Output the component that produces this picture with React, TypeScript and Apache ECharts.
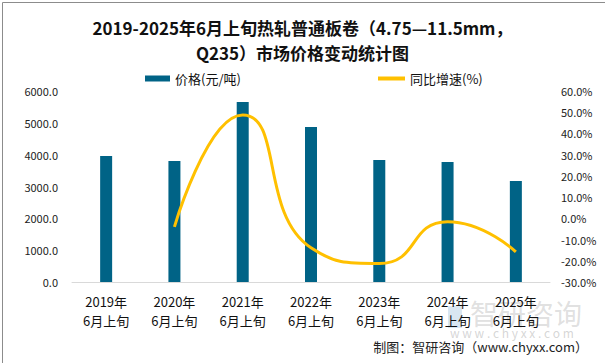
import React, { useEffect, useRef } from "react";
import * as echarts from "echarts";

const categories = ["2019年\n6月上旬", "2020年\n6月上旬", "2021年\n6月上旬", "2022年\n6月上旬", "2023年\n6月上旬", "2024年\n6月上旬", "2025年\n6月上旬"];
const prices = [3958, 3801, 5654, 4869, 3832, 3770, 3173];
const growth = [null, -4.0, 48.7, -13.9, -21.3, -1.6, -15.8];
const titleLines = ["2019-2025年6月上旬热轧普通板卷（4.75—11.5mm，", "Q235）市场价格变动统计图"];
const seriesNames = ["价格(元/吨)", "同比增速(%)"];
const footer = "制图：智研咨询（www.chyxx.com）";
const watermark = "智研咨询";
const watermarkUrl = "w w w . c h y x x . c o m";

const FONT = "'Noto Sans CJK SC', 'Noto Sans', sans-serif";

export default function App() {
  const ref = useRef<HTMLDivElement>(null);
  useEffect(() => {
    document.body.style.margin = "0";
    const chart = echarts.init(ref.current!, null, { renderer: "svg" });
    chart.setOption({
      animation: false,
      backgroundColor: "#ffffff",
      textStyle: { fontFamily: FONT },
      title: {
        text: titleLines.join("\n"),
        left: "center",
        top: 10,
        textStyle: { fontSize: 17, fontWeight: "bold", color: "#111", lineHeight: 25, fontFamily: FONT },
      },
      legend: [
        {
          top: 67,
          left: 140,
          itemWidth: 25,
          itemHeight: 6,
          itemGap: 4,
          textStyle: { fontSize: 13, color: "#111", fontFamily: FONT },
          data: [{ name: seriesNames[0], icon: "rect" }],
        },
        {
          top: 67,
          left: 373,
          itemWidth: 27,
          itemHeight: 4,
          textStyle: { fontSize: 13, color: "#111", fontFamily: FONT },
          data: [{ name: seriesNames[1], icon: "rect", itemStyle: { color: "#FFC000" } }],
        },
      ],
      grid: { left: 72, right: 55, top: 91, bottom: 81 },
      xAxis: {
        type: "category",
        data: categories,
        axisLine: { lineStyle: { color: "#d9d9d9", width: 1 } },
        axisTick: { show: false },
        axisLabel: { fontSize: 13, color: "#111", lineHeight: 19, margin: 10, fontFamily: FONT },
      },
      yAxis: [
        {
          type: "value",
          min: 0,
          max: 6000,
          interval: 1000,
          splitLine: { show: false },
          axisLine: { show: false },
          axisTick: { show: false },
          axisLabel: { fontSize: 11, color: "#222", margin: 14, formatter: (v: number) => v.toFixed(1) },
        },
        {
          type: "value",
          min: -30,
          max: 60,
          interval: 10,
          splitLine: { show: false },
          axisLine: { show: false },
          axisTick: { show: false },
          axisLabel: { fontSize: 11, color: "#222", margin: 11, formatter: (v: number) => v.toFixed(1) + "%" },
        },
      ],
      series: [
        {
          name: seriesNames[0],
          type: "bar",
          data: prices,
          barWidth: 12,
          itemStyle: { color: "#006386" },
        },
        {
          name: seriesNames[1],
          type: "line",
          yAxisIndex: 1,
          data: growth,
          smooth: 0.55,
          showSymbol: false,
          symbol: "none",
          lineStyle: { color: "#FFC000", width: 3 },
          itemStyle: { color: "#FFC000" },
        },
      ],
      graphic: [
        {
          type: "rect",
          left: 448,
          top: 306,
          z: -1,
          shape: { width: 14, height: 22 },
          style: { fill: "rgba(170,200,225,0.45)" },
        },
        {
          type: "text",
          left: 470,
          top: 299,
          z: -1,
          style: { text: watermark, fontSize: 28, fill: "rgba(150,150,150,0.3)", fontFamily: FONT },
        },
        {
          type: "text",
          left: 450,
          top: 326,
          z: -1,
          style: { text: watermarkUrl, fontSize: 12, fill: "rgba(150,150,150,0.4)", fontFamily: FONT },
        },
        {
          type: "text",
          right: 17,
          top: 340,
          style: { text: footer, fontSize: 13, fill: "#222", fontFamily: FONT },
        },
        {
          type: "rect",
          left: 0,
          top: 0,
          shape: { x: 0.5, y: 0.5, width: 604, height: 362 },
          style: { fill: "none", stroke: "#8c8c8c", lineWidth: 1 },
        },
      ],
    });
    return () => chart.dispose();
  }, []);
  return <div ref={ref} style={{ width: 605, height: 363 }} />;
}
